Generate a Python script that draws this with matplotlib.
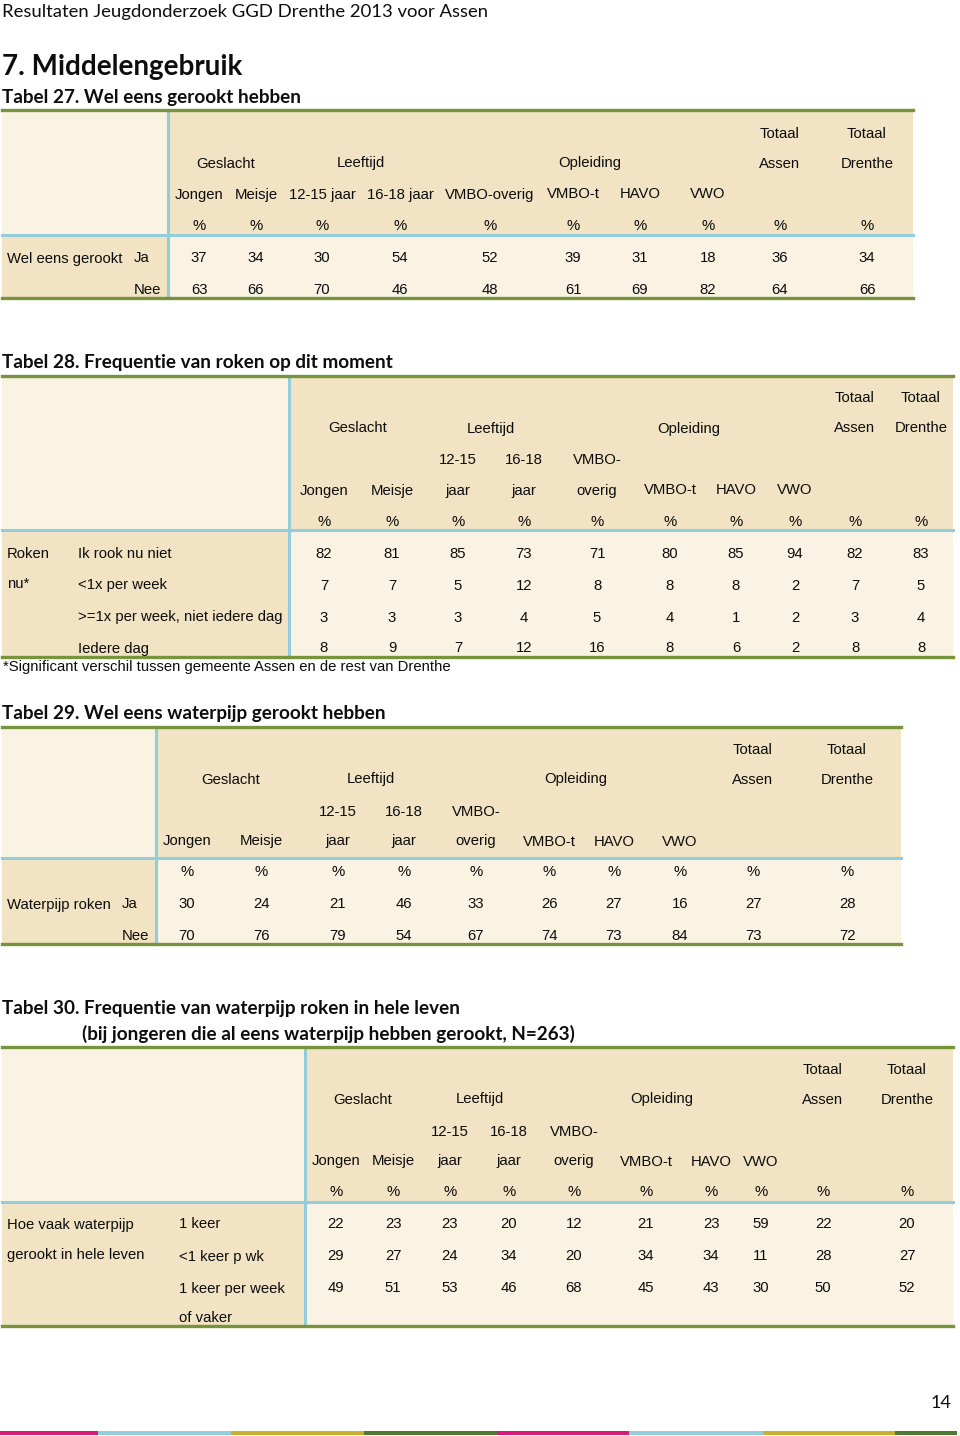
import matplotlib
matplotlib.use("Agg")
import matplotlib.pyplot as plt
from matplotlib.patches import Rectangle

# ---- data ----
columns_t27 = ["Jongen", "Meisje", "12-15 jaar", "16-18 jaar", "VMBO-overig",
               "VMBO-t", "HAVO", "VWO", "", ""]
columns_top = ["", "", "12-15", "16-18", "VMBO-", "", "", "", "", ""]
columns_bot = ["Jongen", "Meisje", "jaar", "jaar", "overig", "VMBO-t", "HAVO", "VWO", "", ""]
groups = ["Geslacht", "Leeftijd", "Opleiding"]

t27_rows = ["Ja", "Nee"]
t27_ja = [37, 34, 30, 54, 52, 39, 31, 18, 36, 34]
t27_nee = [63, 66, 70, 46, 48, 61, 69, 82, 64, 66]

t28_rows = ["Ik rook nu niet", "<1x per week", ">=1x per week, niet iedere dag", "Iedere dag"]
t28_niet = [82, 81, 85, 73, 71, 80, 85, 94, 82, 83]
t28_lt1 = [7, 7, 5, 12, 8, 8, 8, 2, 7, 5]
t28_ge1 = [3, 3, 3, 4, 5, 4, 1, 2, 3, 4]
t28_dag = [8, 9, 7, 12, 16, 8, 6, 2, 8, 8]

t29_rows = ["Ja", "Nee"]
t29_ja = [30, 24, 21, 46, 33, 26, 27, 16, 27, 28]
t29_nee = [70, 76, 79, 54, 67, 74, 73, 84, 73, 72]

t30_rows = ["1 keer", "<1 keer p wk", "1 keer per week"]
t30_1keer = [22, 23, 23, 20, 12, 21, 23, 59, 22, 20]
t30_lt1 = [29, 27, 24, 34, 20, 34, 34, 11, 28, 27]
t30_week = [49, 51, 53, 46, 68, 45, 43, 30, 50, 52]

# ---- style ----
TAN = "#f1e3c3"
CREAM = "#faf3e3"
GREEN = "#77933c"
BLUE = "#92cddc"
TFONT = ["Liberation Sans", "DejaVu Sans"]
HFONT = ["Lato", "DejaVu Sans"]
FS = 10.7

fig = plt.figure(figsize=(9.6, 14.36), dpi=100)
ax = fig.add_axes([0, 0, 1, 1])
ax.set_xlim(0, 960)
ax.set_ylim(1436, 0)
ax.axis("off")


def txt(x, y, s, ha="center", size=FS, family=TFONT, weight="normal"):
    ax.text(x, y + 1.5, s, ha=ha, va="center", fontsize=size, family=family,
            weight=weight, color="#0d0d0d")


def frame(x0, x1, xs, top, mid, bot):
    # background blocks
    ax.add_patch(Rectangle((x0, top), xs - x0, mid - top, color=CREAM, lw=0))
    ax.add_patch(Rectangle((xs, top), x1 - xs, mid - top, color=TAN, lw=0))
    ax.add_patch(Rectangle((x0, mid), xs - x0, bot - mid, color=TAN, lw=0))
    ax.add_patch(Rectangle((xs, mid), x1 - xs, bot - mid, color=CREAM, lw=0))
    ax.plot([xs, xs], [top, bot], color=BLUE, lw=2.2)
    ax.plot([x0, x1], [mid, mid], color=BLUE, lw=2.2)
    ax.plot([x0, x1], [top, top], color=GREEN, lw=2.4)
    ax.plot([x0, x1], [bot, bot], color=GREEN, lw=2.4)


def header(cx, gx, y_tot, y_grp, y_pct, lines):
    txt(cx[8], y_tot, "Totaal")
    txt(cx[9], y_tot, "Totaal")
    for g, x in zip(groups, gx):
        txt(x, y_grp, g)
    txt(cx[8], y_grp, "Assen")
    txt(cx[9], y_grp, "Drenthe")
    for labels, y in lines:
        for s, x in zip(labels, cx):
            if s:
                txt(x, y, s)
    for x in cx:
        txt(x, y_pct, "%")


def body(cx, rows, ys):
    for vals, y in zip(rows, ys):
        for v, x in zip(vals, cx):
            txt(x, y, str(v))


# ---- page header ----
txt(2, 10, "Resultaten Jeugdonderzoek GGD Drenthe 2013 voor Assen", ha="left",
    size=13.3, family=HFONT)
txt(2, 65, "7. Middelengebruik", ha="left", size=20, family=HFONT, weight="bold")

# ---- Tabel 27 ----
txt(2, 96, "Tabel 27. Wel eens gerookt hebben", ha="left", size=13.6, family=HFONT,
    weight="bold")
frame(2, 913, 168, 110, 235, 298)
cx27 = [199, 256, 322, 400, 490, 573, 640, 708, 780, 867]
header(cx27, [226, 361, 590], 132, 162, 225, [(columns_t27, 193)])
body(cx27, [t27_ja, t27_nee], [257, 289])
txt(7, 257, "Wel eens gerookt", ha="left")
txt(134, 257, t27_rows[0], ha="left")
txt(161, 289, t27_rows[1], ha="right")

# ---- Tabel 28 ----
txt(2, 361, "Tabel 28. Frequentie van roken op dit moment", ha="left", size=13.6,
    family=HFONT, weight="bold")
frame(2, 953, 289, 376, 530, 657)
cx28 = [324, 392, 458, 524, 597, 670, 736, 795, 855, 921]
header(cx28, [358, 491, 689], 397, 427, 521, [(columns_top, 459), (columns_bot, 489)])
ys28 = [552, 584, 616, 647]
body(cx28, [t28_niet, t28_lt1, t28_ge1, t28_dag], ys28)
txt(7, 552, "Roken", ha="left")
txt(7, 582, "nu*", ha="left")
for s, y in zip(t28_rows, ys28):
    txt(78, y, s, ha="left")
txt(3, 666, "*Significant verschil tussen gemeente Assen en de rest van Drenthe", ha="left")

# ---- Tabel 29 ----
txt(2, 712, "Tabel 29. Wel eens waterpijp gerookt hebben", ha="left", size=13.6,
    family=HFONT, weight="bold")
frame(2, 901, 156, 727, 858, 944)
cx29 = [187, 261, 338, 404, 476, 549, 614, 680, 753, 847]
header(cx29, [231, 371, 576], 748, 778, 871, [(columns_top, 810), (columns_bot, 840)])
body(cx29, [t29_ja, t29_nee], [903, 935])
txt(7, 903, "Waterpijp roken", ha="left")
txt(122, 903, t29_rows[0], ha="left")
txt(149, 935, t29_rows[1], ha="right")

# ---- Tabel 30 ----
txt(2, 1007, "Tabel 30. Frequentie van waterpijp roken in hele leven", ha="left",
    size=13.6, family=HFONT, weight="bold")
txt(82, 1032, "(bij jongeren die al eens waterpijp hebben gerookt, N=263)", ha="left",
    size=13.6, family=HFONT, weight="bold")
frame(2, 953, 305, 1047, 1202, 1326)
cx30 = [336, 393, 450, 509, 574, 646, 711, 761, 823, 907]
header(cx30, [363, 480, 662], 1068, 1098, 1191, [(columns_top, 1130), (columns_bot, 1160)])
ys30 = [1223, 1255, 1287]
body(cx30, [t30_1keer, t30_lt1, t30_week], ys30)
txt(7, 1223, "Hoe vaak waterpijp", ha="left")
txt(7, 1253, "gerookt in hele leven", ha="left")
for s, y in zip(t30_rows, ys30):
    txt(179, y, s, ha="left")
txt(179, 1316, "of vaker", ha="left")

# ---- footer ----
txt(951, 1401, "14", ha="right", size=13, family=HFONT)
bar_colors = ["#d81b7a", "#92cddc", "#c8b02a", "#4e7a32"] * 2
bar_edges = [0, 98, 231, 364, 497, 629, 763, 895, 957]
for c, a, b in zip(bar_colors, bar_edges[:-1], bar_edges[1:]):
    ax.add_patch(Rectangle((a, 1431), b - a, 4, color=c, lw=0))

fig.savefig("out.png", dpi=100)
